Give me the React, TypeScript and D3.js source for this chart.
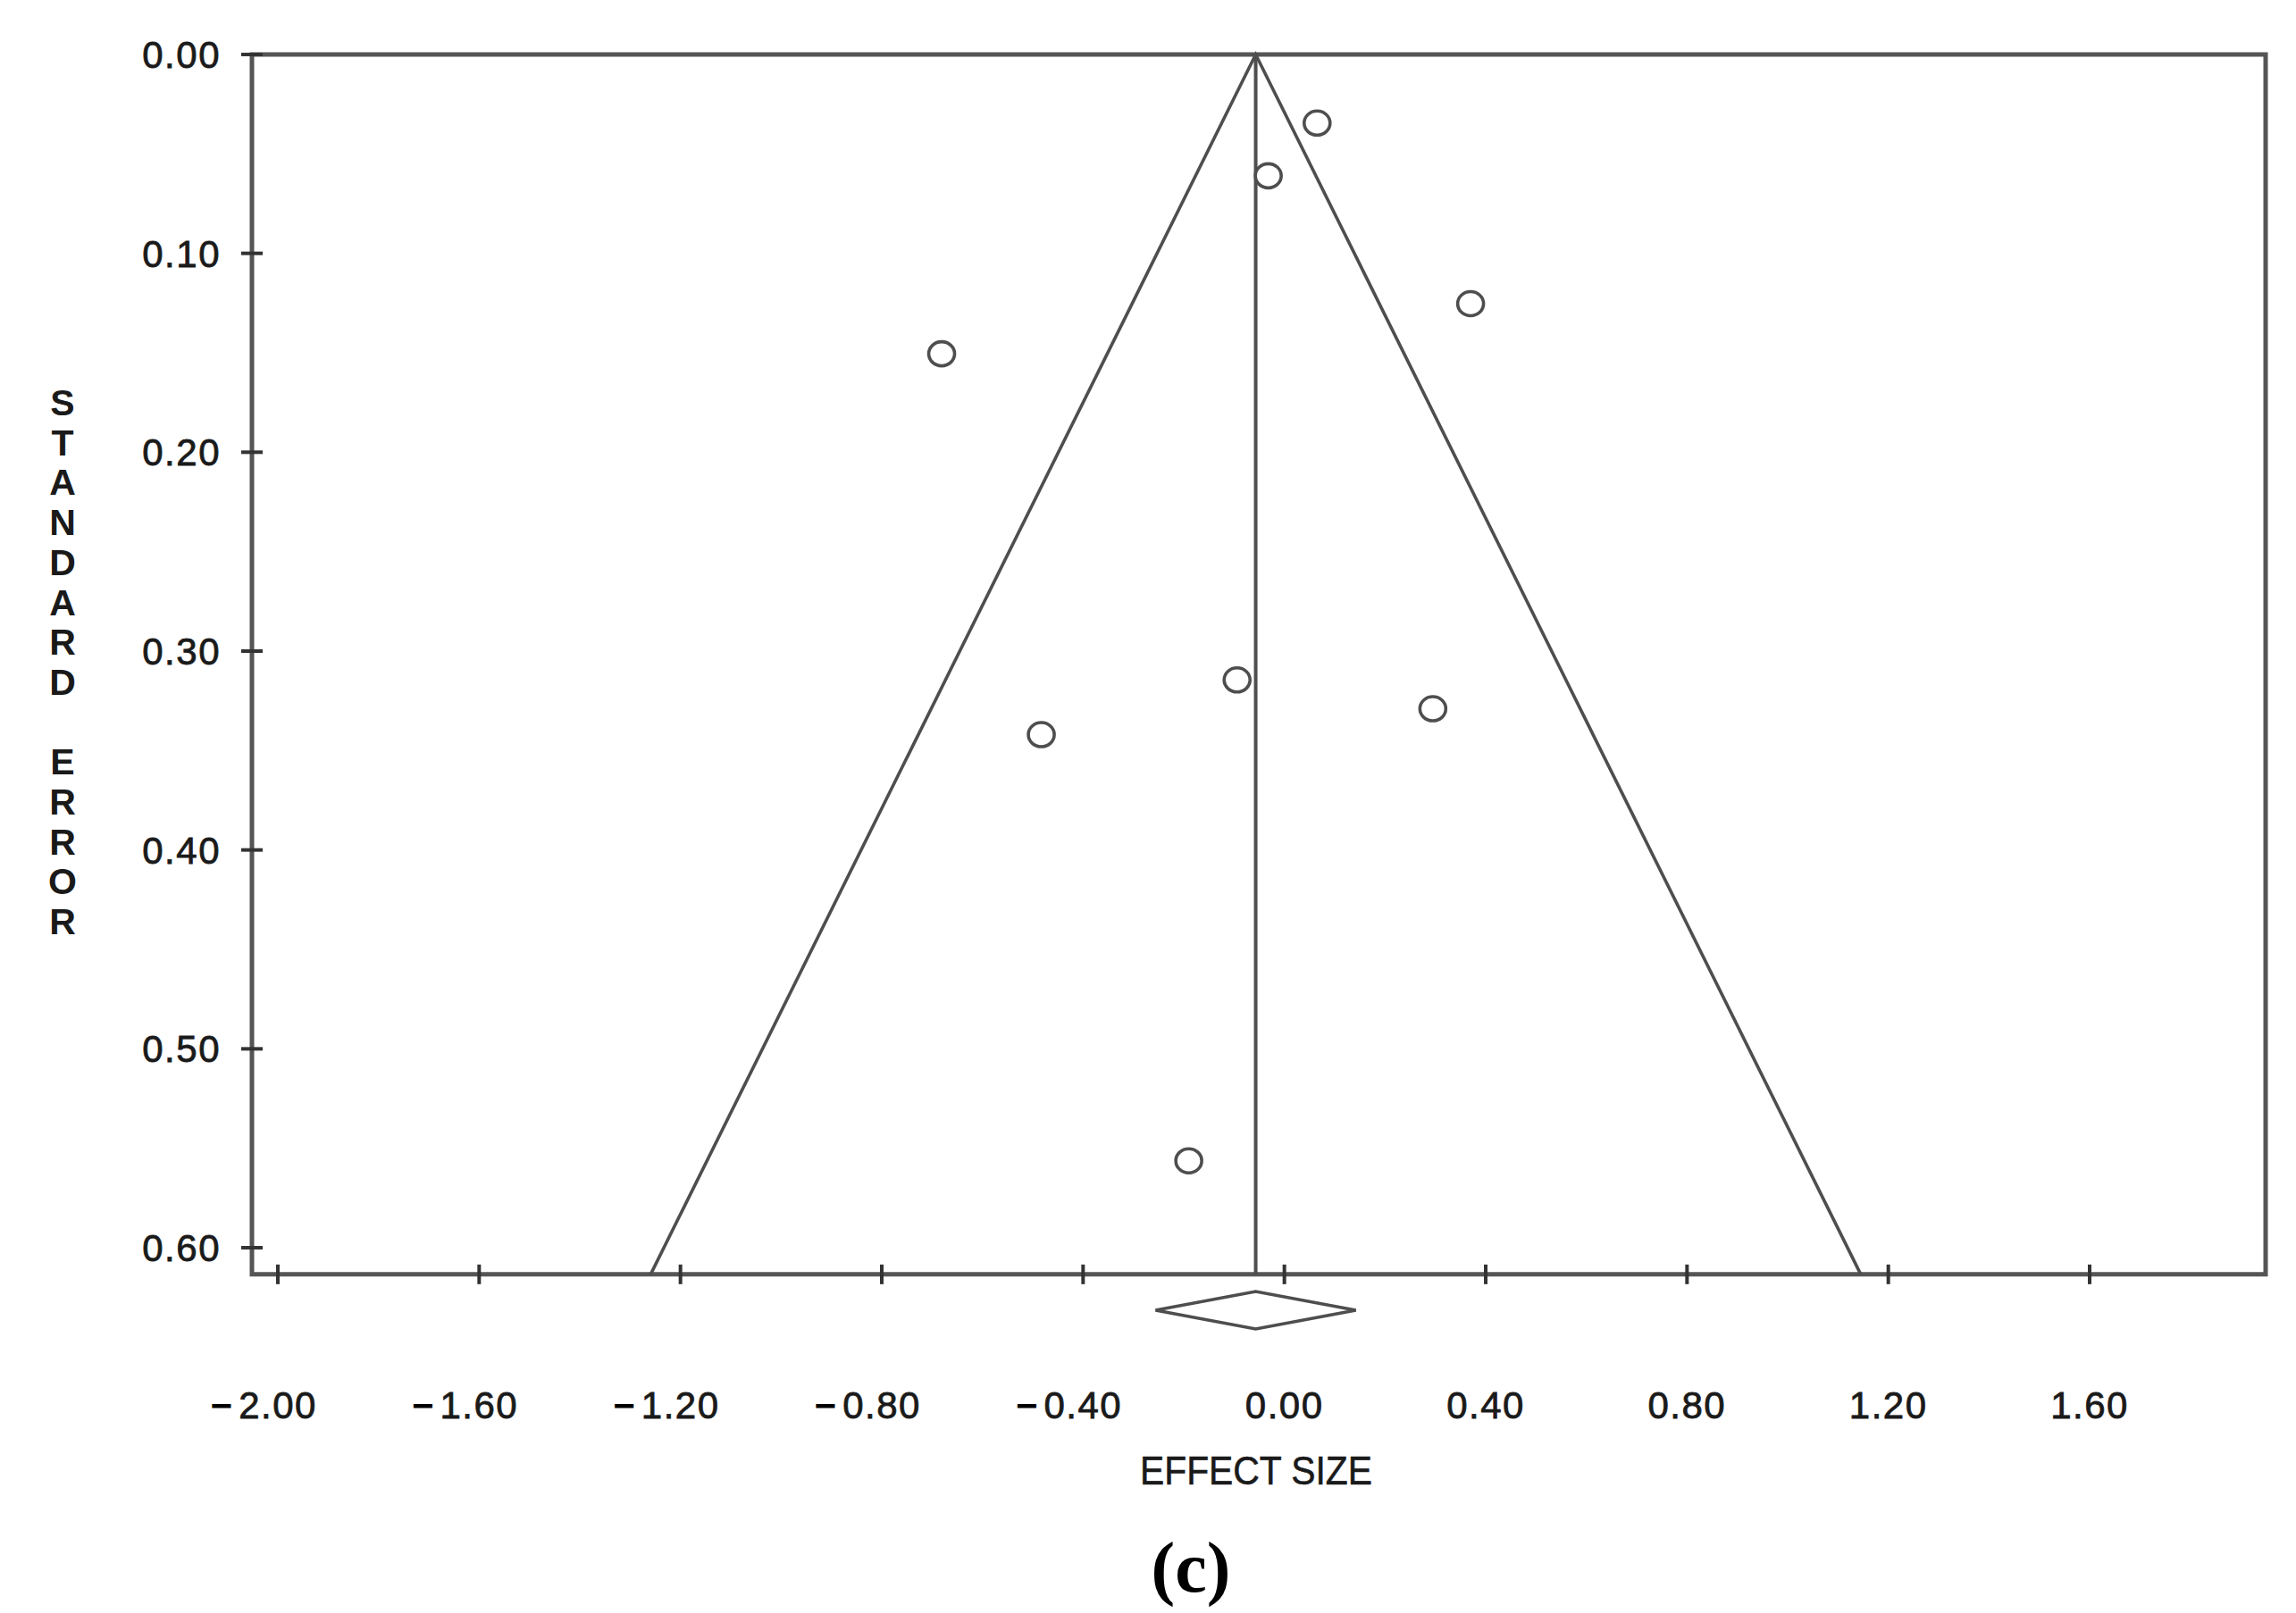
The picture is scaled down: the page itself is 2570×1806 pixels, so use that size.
import React, { useEffect, useRef } from 'react';
import * as d3 from 'd3';

// study points
const effectSizes = [0.065, -0.032, 0.37, -0.681, -0.094, 0.295, -0.483, -0.19];
const standardErrors = [0.0345, 0.061, 0.1253, 0.1505, 0.3145, 0.329, 0.342, 0.5563];

const xTicks = [-2.0, -1.6, -1.2, -0.8, -0.4, 0.0, 0.4, 0.8, 1.2, 1.6];
const yTicks = [0.0, 0.1, 0.2, 0.3, 0.4, 0.5, 0.6];

const meanEffect = -0.057;
const diamondHalf = 0.199;
const seMax = 0.6134;
const yLabel = 'STANDARD ERROR';

const W = 2570;
const H = 1806;

export default function App() {
  const ref = useRef<SVGSVGElement | null>(null);

  useEffect(() => {
    const svg = d3.select(ref.current);
    svg.selectAll('*').remove();

    const font = '"Liberation Sans", Arial, sans-serif';
    const lineCol = '#4e4e4e';
    const textCol = '#1a1a1a';

    const x = d3.scaleLinear().domain([-2, 1.6]).range([311, 2339]);
    const y = d3.scaleLinear().domain([0, 0.6]).range([61, 1397]);

    const left = 282;
    const right = 2536;
    const top = y(0);
    const bottom = y(seMax);

    // frame
    svg.append('path')
      .attr('d', `M${left},${top}H${right}V${bottom}H${left}Z`)
      .attr('fill', 'none')
      .attr('stroke', '#555')
      .attr('stroke-width', 5);

    // y ticks
    svg.append('g').selectAll('line')
      .data(yTicks)
      .join('line')
      .attr('x1', left - 12)
      .attr('x2', left + 12)
      .attr('y1', d => y(d))
      .attr('y2', d => y(d))
      .attr('stroke', '#333')
      .attr('stroke-width', 4);

    svg.append('g').selectAll('text')
      .data(yTicks)
      .join('text')
      .attr('x', 247)
      .attr('y', d => y(d) + 15)
      .attr('text-anchor', 'end')
      .attr('font-family', font)
      .attr('font-size', 42)
      .attr('letter-spacing', 1.5)
      .attr('fill', textCol)
      .attr('stroke', textCol)
      .attr('stroke-width', 0.8)
      .text(d => d3.format('.2f')(d));

    // x ticks
    svg.append('g').selectAll('line')
      .data(xTicks)
      .join('line')
      .attr('x1', d => x(d))
      .attr('x2', d => x(d))
      .attr('y1', bottom - 11)
      .attr('y2', bottom + 11)
      .attr('stroke', '#333')
      .attr('stroke-width', 4);

    const xl = svg.append('g');
    xTicks.forEach(t => {
      const num = xl.append('text')
        .attr('x', x(t))
        .attr('y', 1588)
        .attr('text-anchor', 'middle')
        .attr('font-family', font)
        .attr('font-size', 42)
        .attr('letter-spacing', 1.5)
        .attr('fill', textCol)
        .attr('stroke', textCol)
        .attr('stroke-width', 0.8)
        .text(d3.format('.2f')(Math.abs(t)));
      if (t < 0) {
        const w = (num.node() as SVGTextElement).getComputedTextLength();
        xl.append('text')
          .attr('x', x(t) - w / 2 - 7)
          .attr('y', 1588)
          .attr('text-anchor', 'end')
          .attr('font-family', font)
          .attr('font-size', 42)
          .attr('font-weight', 'bold')
          .attr('fill', '#000')
          .text('\u2212');
      }
    });

    // funnel (95% limits) and mean line
    const funnel = d3.line<[number, number]>()
      .x(d => x(d[0]))
      .y(d => y(d[1]));

    svg.append('path')
      .attr('d', funnel([
        [meanEffect - 1.96 * seMax, seMax],
        [meanEffect, 0],
        [meanEffect + 1.96 * seMax, seMax],
      ]))
      .attr('fill', 'none')
      .attr('stroke', lineCol)
      .attr('stroke-width', 3.6);

    svg.append('line')
      .attr('x1', x(meanEffect))
      .attr('x2', x(meanEffect))
      .attr('y1', y(0))
      .attr('y2', bottom)
      .attr('stroke', lineCol)
      .attr('stroke-width', 4);

    // studies
    svg.append('g').selectAll('ellipse')
      .data(effectSizes.map((e, i) => ({ e, se: standardErrors[i] })))
      .join('ellipse')
      .attr('cx', d => x(d.e))
      .attr('cy', d => y(d.se))
      .attr('rx', 14.5)
      .attr('ry', 13.5)
      .attr('fill', 'white')
      .attr('stroke', lineCol)
      .attr('stroke-width', 3.6);

    // summary diamond
    const dy = 1467;
    svg.append('path')
      .attr('d', `M${x(meanEffect - diamondHalf)},${dy}L${x(meanEffect)},${dy - 21}L${x(meanEffect + diamondHalf)},${dy}L${x(meanEffect)},${dy + 21}Z`)
      .attr('fill', 'none')
      .attr('stroke', lineCol)
      .attr('stroke-width', 3.6);

    // axis titles
    svg.append('text')
      .attr('x', 1406)
      .attr('y', 1662)
      .attr('text-anchor', 'middle')
      .attr('font-family', font)
      .attr('font-size', 44)
      .attr('textLength', 260)
      .attr('lengthAdjust', 'spacingAndGlyphs')
      .attr('fill', textCol)
      .attr('stroke', textCol)
      .attr('stroke-width', 0.6)
      .text('EFFECT SIZE');

    svg.append('g').selectAll('text')
      .data(yLabel.split(''))
      .join('text')
      .attr('x', 70)
      .attr('y', (d, i) => 450 + i * 44.7 + 15)
      .attr('text-anchor', 'middle')
      .attr('font-family', font)
      .attr('font-size', 41)
      .attr('font-weight', 'bold')
      .attr('fill', textCol)
      .text(d => d);

    svg.append('text')
      .attr('x', 1333)
      .attr('y', 1782)
      .attr('text-anchor', 'middle')
      .attr('font-family', '"Liberation Serif", "Times New Roman", serif')
      .attr('font-size', 80)
      .attr('font-weight', 'bold')
      .attr('fill', '#000')
      .text('(c)');
  }, []);

  return (
    <div style={{ position: 'absolute', left: 0, top: 0 }}>
      <svg ref={ref} width={W} height={H} style={{ display: 'block', background: '#fff' }} />
    </div>
  );
}
